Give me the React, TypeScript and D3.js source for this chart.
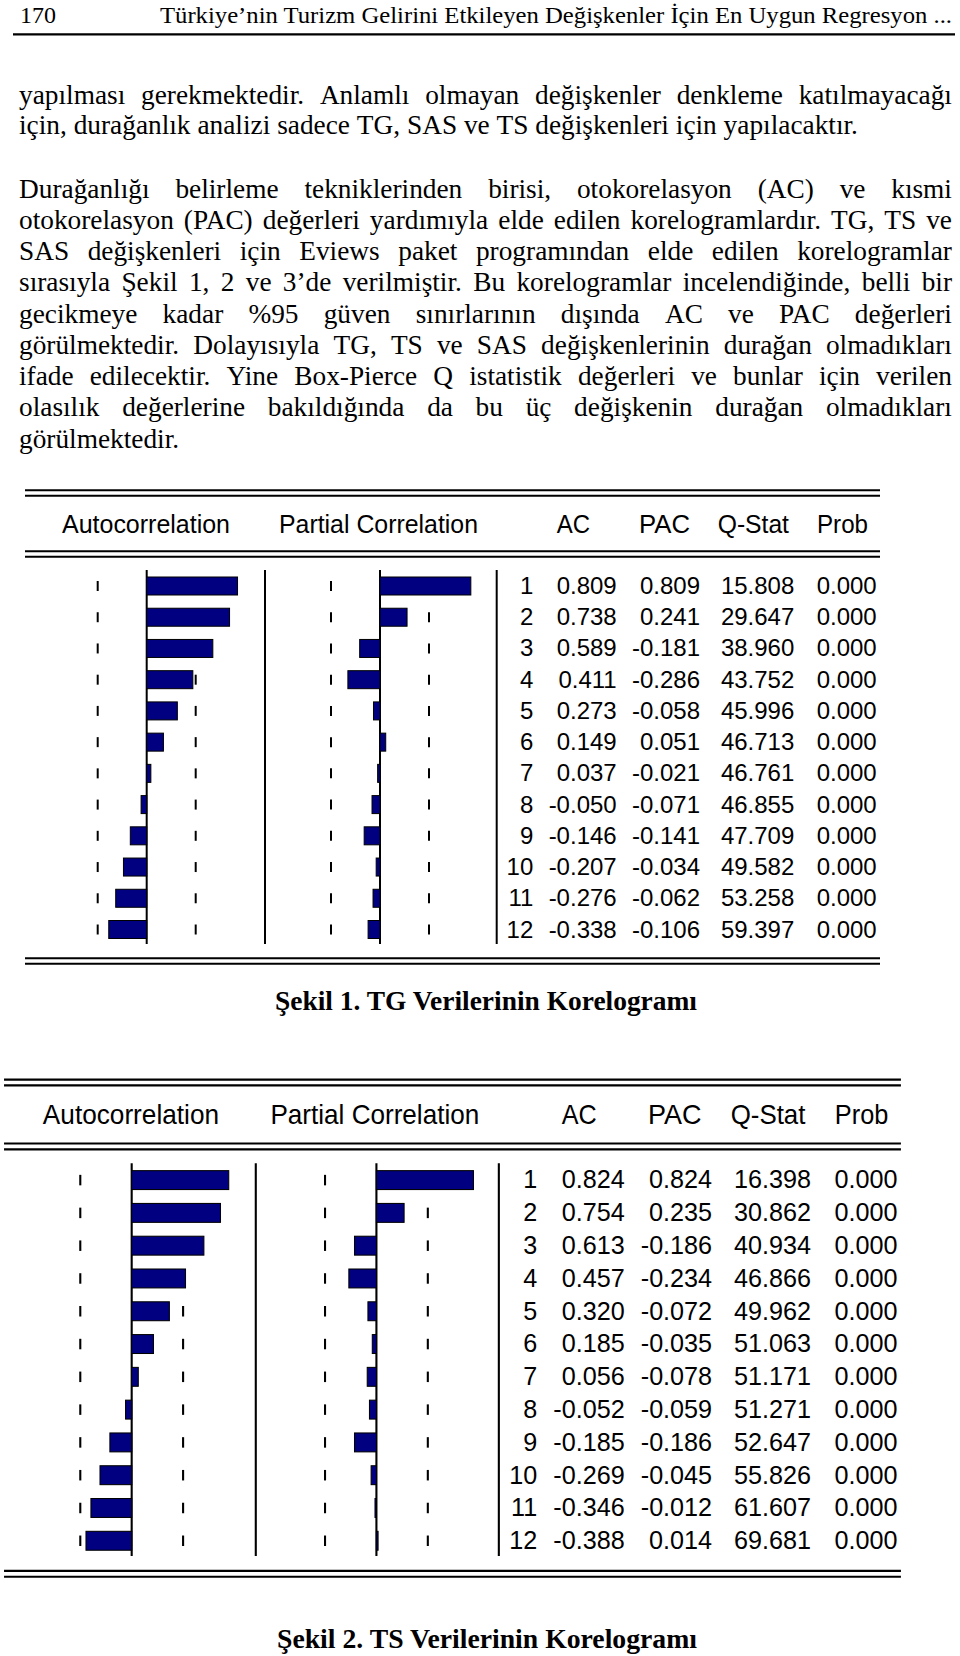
import React, { useMemo } from 'react';
import * as d3 from 'd3';

// ---------- page text ----------
const pageNumber = '170';
const runningTitle = 'Türkiye’nin Turizm Gelirini Etkileyen Değişkenler İçin En Uygun Regresyon ...';

const paragraph1 = [
  'yapılması gerekmektedir. Anlamlı olmayan değişkenler denkleme katılmayacağı',
  'için, durağanlık analizi sadece TG, SAS ve TS değişkenleri için yapılacaktır.',
];
const paragraph2 = [
  'Durağanlığı belirleme tekniklerinden birisi, otokorelasyon (AC) ve kısmi',
  'otokorelasyon (PAC) değerleri yardımıyla elde edilen korelogramlardır. TG, TS ve',
  'SAS değişkenleri için Eviews paket programından elde edilen korelogramlar',
  'sırasıyla Şekil 1, 2 ve 3’de verilmiştir. Bu korelogramlar incelendiğinde, belli bir',
  'gecikmeye kadar %95 güven sınırlarının dışında AC ve PAC değerleri',
  'görülmektedir. Dolayısıyla TG, TS ve SAS değişkenlerinin durağan olmadıkları',
  'ifade edilecektir. Yine Box-Pierce Q istatistik değerleri ve bunlar için verilen',
  'olasılık değerlerine bakıldığında da bu üç değişkenin durağan olmadıkları',
  'görülmektedir.',
];

// ---------- correlogram data ----------
const lags = [1, 2, 3, 4, 5, 6, 7, 8, 9, 10, 11, 12];
const panelTitles = ['Autocorrelation', 'Partial Correlation'];
const columnTitles = ['AC', 'PAC', 'Q-Stat', 'Prob'];
const nObs = 21;

const tgAC = [0.809, 0.738, 0.589, 0.411, 0.273, 0.149, 0.037, -0.05, -0.146, -0.207, -0.276, -0.338];
const tgPAC = [0.809, 0.241, -0.181, -0.286, -0.058, 0.051, -0.021, -0.071, -0.141, -0.034, -0.062, -0.106];
const tgQ = [15.808, 29.647, 38.96, 43.752, 45.996, 46.713, 46.761, 46.855, 47.709, 49.582, 53.258, 59.397];
const tgProb = [0, 0, 0, 0, 0, 0, 0, 0, 0, 0, 0, 0];

const tsAC = [0.824, 0.754, 0.613, 0.457, 0.32, 0.185, 0.056, -0.052, -0.185, -0.269, -0.346, -0.388];
const tsPAC = [0.824, 0.235, -0.186, -0.234, -0.072, -0.035, -0.078, -0.059, -0.186, -0.045, -0.012, 0.014];
const tsQ = [16.398, 30.862, 40.934, 46.866, 49.962, 51.063, 51.171, 51.271, 52.647, 55.826, 61.607, 69.681];
const tsProb = [0, 0, 0, 0, 0, 0, 0, 0, 0, 0, 0, 0];

const captions = ['Şekil 1. TG Verilerinin Korelogramı', 'Şekil 2. TS Verilerinin Korelogramı'];

// ---------- styles / layout ----------
const SERIF = '"Liberation Serif", "Times New Roman", serif';
const SANS = '"Liberation Sans", Arial, sans-serif';
const BAR_FILL = '#000080';
const fmt3 = d3.formatLocale({ decimal: '.', thousands: ',', grouping: [3], currency: ['', ''], minus: '-' }).format('.3f');

const BODY_SIZE = 27;
const BODY_LEFT = 19;
const BODY_RIGHT = 952;

type Line = { text: string; y: number; justify: boolean };

function Correlogram(props: {
  ac: number[]; pac: number[]; q: number[]; prob: number[]; transform?: string;
}) {
  const { ac, pac, q, prob, transform } = props;
  const bound = 2 / Math.sqrt(nObs);
  const halfBand = 49; // px between zero line and 95% dash
  const acX = d3.scaleLinear().domain([0, bound]).range([146.7, 146.7 + halfBand]);
  const pacX = d3.scaleLinear().domain([0, bound]).range([380, 380 + halfBand]);
  const rowY = d3.scaleLinear().domain([1, 12]).range([586, 929.5]);
  const barH = 18;
  const dashH = 10;
  const left = 25;
  const right = 880;
  const vTop = 570;
  const vBottom = 944;
  const colRight = [616.7, 700, 794.3, 876.7];
  const lagRight = 533.3;
  const headerX = [
    [556.7, 33.3],
    [639, 51],
    [717.7, 71.3],
    [817, 51],
  ];

  const doubleRule = (y: number, key: string) => (
    <g key={key}>
      <line x1={left} x2={right} y1={y} y2={y} stroke="#000" strokeWidth={2} />
      <line x1={left} x2={right} y1={y + 5.5} y2={y + 5.5} stroke="#000" strokeWidth={2} />
    </g>
  );

  const bar = (scale: d3.ScaleLinear<number, number>, v: number, i: number, key: string) => {
    const x0 = scale(0);
    const x1 = scale(v);
    const y = rowY(lags[i]);
    return (
      <rect
        key={key}
        x={Math.min(x0, x1)}
        y={y - barH / 2}
        width={Math.max(Math.abs(x1 - x0), 1)}
        height={barH}
        fill={BAR_FILL}
        stroke="#000"
        strokeWidth={1}
      />
    );
  };

  return (
    <g transform={transform}>
      {doubleRule(490.3, 'r1')}
      {doubleRule(551.2, 'r2')}
      {doubleRule(958.2, 'r3')}
      {/* panel titles */}
      <text x={62} y={533} fontFamily={SANS} fontSize={26} textLength={168} lengthAdjust="spacingAndGlyphs">{panelTitles[0]}</text>
      <text x={279} y={533} fontFamily={SANS} fontSize={26} textLength={199} lengthAdjust="spacingAndGlyphs">{panelTitles[1]}</text>
      {columnTitles.map((t, i) => (
        <text key={t} x={headerX[i][0]} y={533} fontFamily={SANS} fontSize={26} textLength={headerX[i][1]} lengthAdjust="spacingAndGlyphs">{t}</text>
      ))}
      {/* vertical lines */}
      {[acX(0), 265, pacX(0), 496.7].map((x, i) => (
        <line key={'v' + i} x1={x} x2={x} y1={vTop} y2={vBottom} stroke="#000" strokeWidth={2} />
      ))}
      {/* confidence dashes */}
      {lags.map((lag) => (
        <g key={'d' + lag}>
          {[acX(-bound), acX(bound), pacX(-bound), pacX(bound)].map((x, j) => (
            <line key={j} x1={x} x2={x} y1={rowY(lag) - dashH / 2} y2={rowY(lag) + dashH / 2} stroke="#000" strokeWidth={2} />
          ))}
        </g>
      ))}
      {/* bars */}
      {ac.map((v, i) => bar(acX, v, i, 'a' + i))}
      {pac.map((v, i) => bar(pacX, v, i, 'p' + i))}
      {/* table */}
      {lags.map((lag, i) => {
        const y = rowY(lag) + 8;
        const vals = [fmt3(ac[i]), fmt3(pac[i]), fmt3(q[i]), fmt3(prob[i])];
        return (
          <g key={'t' + lag} fontFamily={SANS} fontSize={24} fill="#000" textAnchor="end">
            <text x={lagRight} y={y}>{lag}</text>
            {vals.map((s, j) => (
              <text key={j} x={colRight[j]} y={y}>{s}</text>
            ))}
          </g>
        );
      })}
    </g>
  );
}

export default function App() {
  const bodyLines: Line[] = useMemo(() => {
    const out: Line[] = [];
    paragraph1.forEach((t, i) => out.push({ text: t, y: 103.5 + i * 30.6, justify: i < paragraph1.length - 1 }));
    paragraph2.forEach((t, i) => out.push({ text: t, y: 197.5 + i * 31.25, justify: i < paragraph2.length - 1 }));
    return out;
  }, []);

  const placed = useMemo(() => {
    const ctx = document.createElement('canvas').getContext('2d')!;
    ctx.font = `${BODY_SIZE}px ${SERIF}`;
    const refW = ctx.measureText(paragraph1[1]).width || 839;
    const sx = Math.min(1.08, Math.max(0.95, 839 / refW));
    const spaceW = ctx.measureText(' ').width || 6.75;
    const W = BODY_RIGHT - BODY_LEFT;
    return bodyLines.map((ln) => {
      const words = ln.text.split(' ');
      const ws = words.map((w) => (ctx.measureText(w).width || w.length * 11) * sx);
      const sum = d3.sum(ws);
      const gap = ln.justify && words.length > 1 ? (W - sum) / (words.length - 1) : spaceW * sx;
      let x = BODY_LEFT;
      const items = words.map((w, i) => {
        const it = { w, x };
        x += ws[i] + gap;
        return it;
      });
      return { y: ln.y, items, sx };
    });
  }, [bodyLines]);

  return (
    <svg
      width={960}
      height={1656}
      viewBox="0 0 960 1656"
      style={{ position: 'absolute', left: 0, top: 0, background: '#fff' }}
    >
      <rect x={0} y={0} width={960} height={1656} fill="#fff" />
      {/* running header */}
      <text x={20} y={22.7} fontFamily={SERIF} fontSize={24}>{pageNumber}</text>
      <text x={160} y={22.7} fontFamily={SERIF} fontSize={24} textLength={792} lengthAdjust="spacingAndGlyphs">{runningTitle}</text>
      <line x1={13} x2={955} y1={34.3} y2={34.3} stroke="#000" strokeWidth={2.2} />

      {/* body text */}
      {placed.map((ln, li) => (
        <g key={'l' + li}>
          {ln.items.map((it, wi) => (
            <text
              key={wi}
              transform={`translate(${it.x},${ln.y}) scale(${ln.sx},1)`}
              fontFamily={SERIF}
              fontSize={BODY_SIZE}
              fill="#000"
            >
              {it.w}
            </text>
          ))}
        </g>
      ))}

      {/* Figure 1 */}
      <Correlogram ac={tgAC} pac={tgPAC} q={tgQ} prob={tgProb} />
      <text x={486} y={1010} textAnchor="middle" fontFamily={SERIF} fontWeight="bold" fontSize={27.5} textLength={422} lengthAdjust="spacingAndGlyphs">{captions[0]}</text>

      {/* Figure 2 */}
      <Correlogram ac={tsAC} pac={tsPAC} q={tsQ} prob={tsProb} transform="translate(-22.2,564.8) scale(1.049,1.05)" />
      <text x={487} y={1648} textAnchor="middle" fontFamily={SERIF} fontWeight="bold" fontSize={27.5} textLength={420} lengthAdjust="spacingAndGlyphs">{captions[1]}</text>
    </svg>
  );
}
